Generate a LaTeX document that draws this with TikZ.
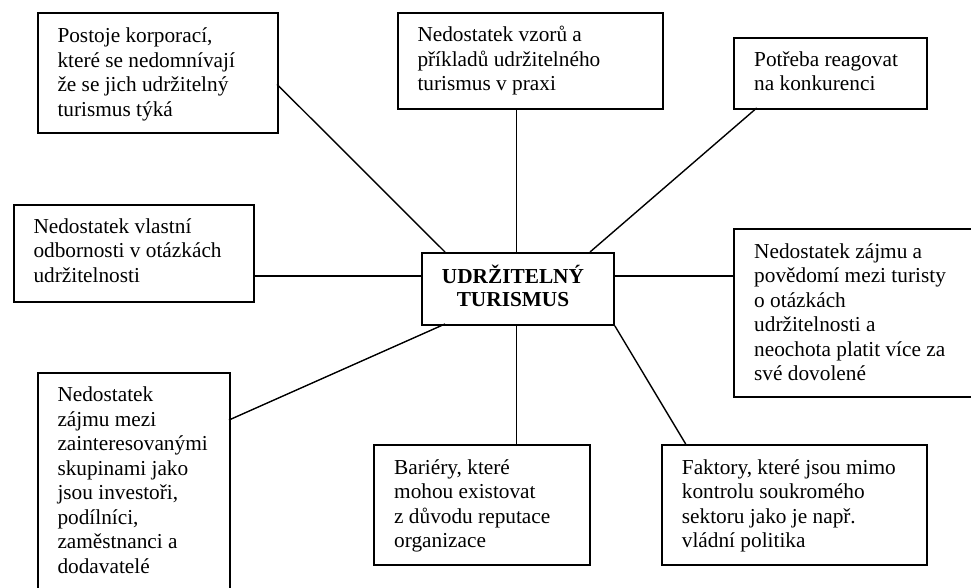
\documentclass[tikz,border=0pt]{standalone}
\usepackage{fontspec}
\setmainfont{Liberation Serif}
\begin{document}
\begin{tikzpicture}[x=1pt,y=-1pt,
  box/.style={draw=black, line width=1.8pt, inner sep=0pt, anchor=north west},
  txt/.style={anchor=base west, inner sep=0pt, font=\fontsize{21.3}{24.5}\selectfont},
  conn/.style={draw=black, line width=1.4pt}]
\useasboundingbox (0,0) rectangle (971,587);
% boxes
\node[box, minimum width=240pt, minimum height=120pt] (A) at (37,12) {};
\node[box, minimum width=265pt, minimum height=96pt] (B) at (397,12) {};
\node[box, minimum width=193pt, minimum height=71pt] (C) at (733,37) {};
\node[box, minimum width=240pt, minimum height=97pt] (D) at (13,204) {};
\node[box, minimum width=192pt, minimum height=72pt] (E) at (421,252) {};
\node[box, minimum width=250pt, minimum height=168pt] (F) at (733,228) {};
\node[box, minimum width=192pt, minimum height=225pt] (G) at (37,372) {};
\node[box, minimum width=216pt, minimum height=120pt] (H) at (373,444) {};
\node[box, minimum width=265pt, minimum height=120pt] (I) at (661,444) {};
% texts
\node[txt] (tA) at (57.3,42.7) {\parbox[t]{230pt}{\raggedright Postoje korporací,\\které se nedomnívají\\že se jich udržitelný\\turismus týká}};
\node[txt] (tB) at (417.3,41.7) {\parbox[t]{240pt}{\raggedright Nedostatek vzorů a\\příkladů udržitelného\\turismus v praxi}};
\node[txt] (tC) at (754,66) {\parbox[t]{170pt}{\raggedright Potřeba reagovat\\na konkurenci}};
\node[txt] (tD) at (33.3,233) {\parbox[t]{220pt}{\raggedright Nedostatek vlastní\\odbornosti v otázkách\\udržitelnosti}};
\node[txt] (tF) at (754,258.3) {\parbox[t]{215pt}{\raggedright Nedostatek zájmu a\\povědomí mezi turisty\\o otázkách\\udržitelnosti a\\neochota platit více za\\své dovolené}};
\node[txt] (tG) at (57.3,401.7) {\parbox[t]{170pt}{\raggedright Nedostatek\\zájmu mezi\\zainteresovanými\\skupinami jako\\jsou investoři,\\podílníci,\\zaměstnanci a\\dodavatelé}};
\node[txt] (tH) at (394,474) {\parbox[t]{195pt}{\raggedright Bariéry, které\\mohou existovat\\z důvodu reputace\\organizace}};
\node[txt] (tI) at (681.7,474) {\parbox[t]{240pt}{\raggedright Faktory, které jsou mimo\\kontrolu soukromého\\sektoru jako je např.\\vládní politika}};
\node[anchor=base, inner sep=0pt, font=\fontsize{21.3}{23.4}\selectfont\bfseries] (tE) at (513,283.3) {\parbox[t]{180pt}{\centering UDRŽITELNÝ\\TURISMUS}};
% connectors
\coordinate (a1) at (277,84.3);
\coordinate (e1) at (445,252);
\draw[conn] (a1) -- (e1);
\draw[conn] (B.south -| 516.7,0) -- (E.north -| 516.7,0);
\coordinate (c1) at (756.7,108);
\coordinate (e2) at (590,252);
\draw[conn] (c1) -- (e2);
\draw[conn] (D.east |- 0,276) -- (E.west |- 0,276);
\draw[conn] (E.east |- 0,276) -- (F.west |- 0,276);
\coordinate (g1) at (229,420);
\coordinate (e3) at (445,324);
\draw[conn] (g1) -- (e3);
\draw[conn] (E.south -| 516.7,0) -- (H.north -| 516.7,0);
\coordinate (i1) at (685.7,444);
\draw[conn] (E.south east) -- (i1);
\end{tikzpicture}
\end{document}
